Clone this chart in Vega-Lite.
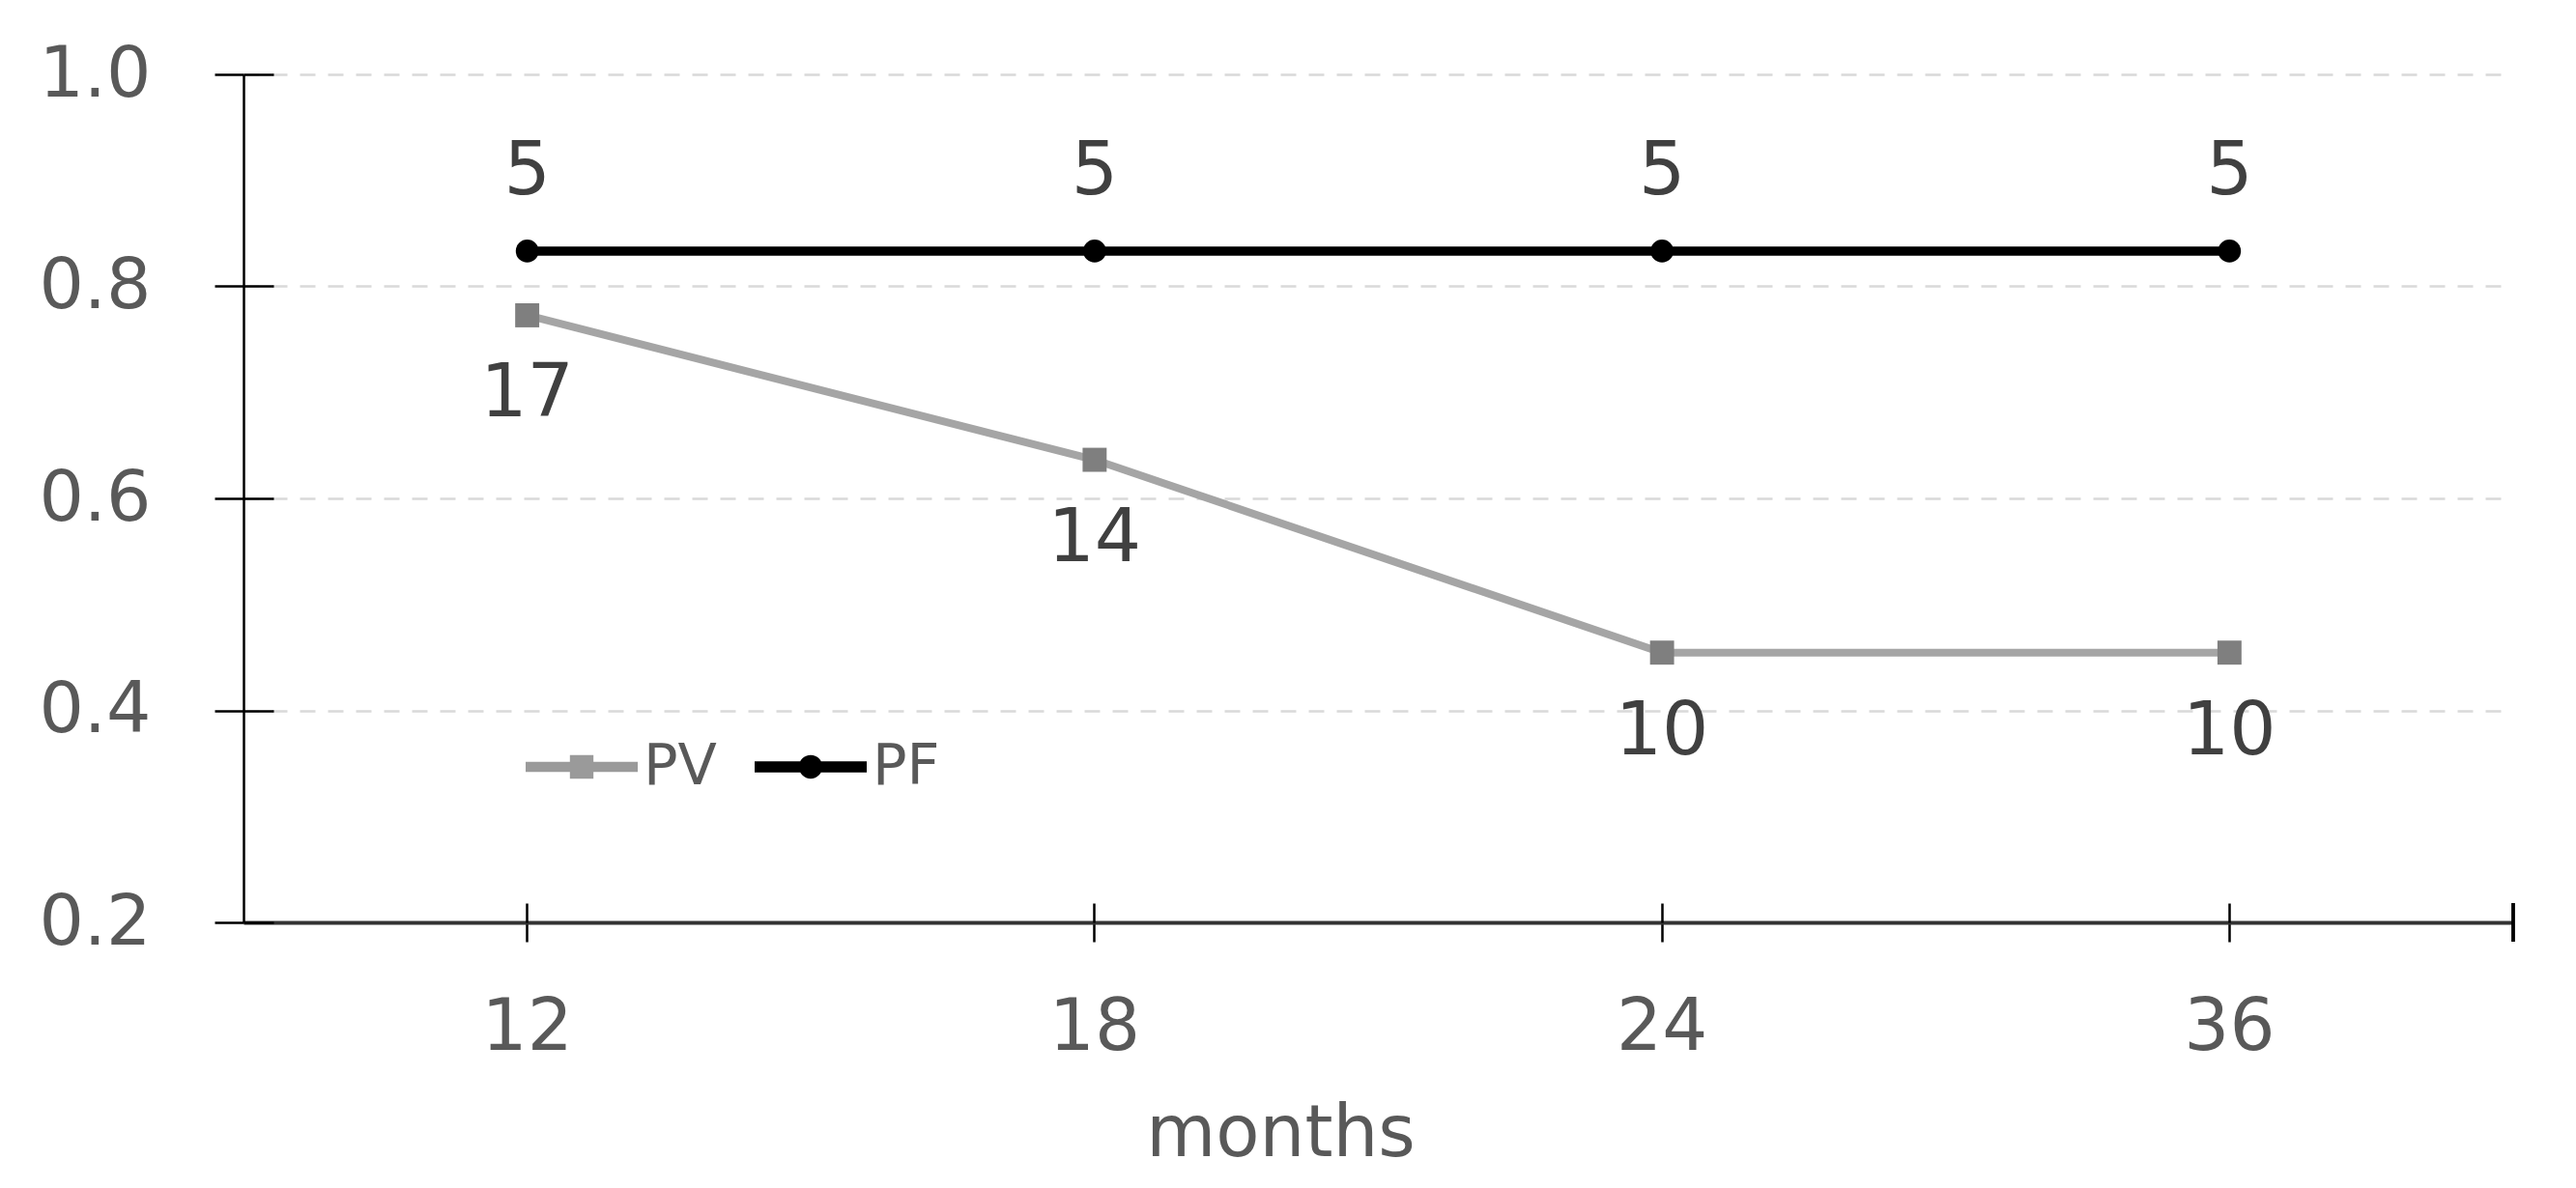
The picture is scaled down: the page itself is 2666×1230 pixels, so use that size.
{
  "$schema": "https://vega.github.io/schema/vega-lite/v6.json",
  "width": 2349,
  "height": 878,
  "autosize": {"type": "none"},
  "padding": {"left": 252, "top": 77, "right": 65, "bottom": 275},
  "background": "white",
  "config": {"view": {"stroke": null}, "font": "DejaVu Sans"},
  "data": {
    "values": [
      {"months": "12", "series": "PV", "value": 0.7727, "label": 17},
      {"months": "18", "series": "PV", "value": 0.6364, "label": 14},
      {"months": "24", "series": "PV", "value": 0.4545, "label": 10},
      {"months": "36", "series": "PV", "value": 0.4545, "label": 10},
      {"months": "12", "series": "PF", "value": 0.8333, "label": 5},
      {"months": "18", "series": "PF", "value": 0.8333, "label": 5},
      {"months": "24", "series": "PF", "value": 0.8333, "label": 5},
      {"months": "36", "series": "PF", "value": 0.8333, "label": 5}
    ]
  },
  "resolve": {"axis": {"x": "independent", "y": "independent"}},
  "layer": [
    {
      "encoding": {
        "x": {
          "field": "months",
          "type": "ordinal",
          "sort": ["12", "18", "24", "36"],
          "scale": {"type": "band", "paddingInner": 0, "paddingOuter": 0},
          "axis": {
            "orient": "bottom",
            "title": "months",
            "titleFont": "DejaVu Sans",
            "titleFontSize": 74,
            "titleFontWeight": "normal",
            "titleColor": "#595959",
            "titleX": 1073,
            "titleY": 241,
            "titleAlign": "center",
            "titleBaseline": "alphabetic",
            "labelAngle": 0,
            "labelFont": "DejaVu Sans",
            "labelFontSize": 74,
            "labelColor": "#595959",
            "labelBaseline": "alphabetic",
            "labelPadding": 111,
            "tickSize": 20,
            "tickWidth": 2.5,
            "tickColor": "#000000",
            "domainColor": "#333333",
            "domainWidth": 4,
            "grid": false
          }
        },
        "y": {
          "field": "value",
          "type": "quantitative",
          "scale": {"domain": [0.2, 1.0], "nice": false, "zero": false},
          "axis": {
            "orient": "left",
            "title": null,
            "values": [0.2, 0.4, 0.6, 0.8, 1.0],
            "format": ".1f",
            "labelFont": "DejaVu Sans",
            "labelFontSize": 73,
            "labelColor": "#595959",
            "labelPadding": 66,
            "tickSize": 30,
            "tickWidth": 2.5,
            "tickColor": "#000000",
            "domainColor": "#000000",
            "domainWidth": 2.5,
            "grid": true,
            "gridColor": "#D9D9D9",
            "gridDash": [16, 13],
            "gridWidth": 2.5
          }
        },
        "color": {
          "field": "series",
          "type": "nominal",
          "scale": {"domain": ["PV", "PF"], "range": ["#A5A5A5", "#000000"]},
          "legend": {
            "orient": "none",
            "legendX": 292,
            "legendY": 659,
            "direction": "horizontal",
            "title": null,
            "labelFont": "DejaVu Sans",
            "labelFontSize": 59,
            "labelColor": "#595959",
            "symbolSize": 13456,
            "labelOffset": 6,
            "columnPadding": 39,
            "symbolStrokeWidth": 0,
            "encode": {
              "symbols": {
                "update": {
                  "shape": {"signal": "datum.value === 'PV' ? 'M-1,-0.09H1V0.09H-1Z M-0.21,-0.21H0.21V0.21H-0.21Z' : 'M-1,-0.1H1V0.1H-1Z M-0.21,0A0.21,0.21 0 1,1 0.21,0A0.21,0.21 0 1,1 -0.21,0Z'"},
                  "fill": {"signal": "datum.value === 'PV' ? '#9A9A9A' : '#000000'"},
                  "fillOpacity": {"value": 1},
                  "strokeWidth": {"value": 0},
                  "opacity": {"value": 1}
                }
              }
            }
          }
        }
      },
      "layer": [
        {
          "transform": [{"filter": "datum.series === 'PV'"}],
          "mark": {"type": "line", "strokeWidth": 8, "strokeCap": "butt"}
        },
        {
          "transform": [{"filter": "datum.series === 'PF'"}],
          "mark": {"type": "line", "strokeWidth": 9.5, "strokeCap": "butt"}
        },
        {
          "transform": [{"filter": "datum.series === 'PV'"}],
          "mark": {"type": "square", "size": 620, "fill": "#7F7F7F", "opacity": 1},
          "encoding": {"color": {"value": "#7F7F7F"}}
        },
        {
          "transform": [{"filter": "datum.series === 'PF'"}],
          "mark": {"type": "circle", "size": 560, "opacity": 1},
          "encoding": {"color": {"value": "#000000"}}
        },
        {
          "transform": [{"filter": "datum.series === 'PV'"}],
          "mark": {"type": "text", "dy": 82, "fontSize": 76, "font": "DejaVu Sans", "baseline": "middle"},
          "encoding": {"text": {"field": "label", "type": "quantitative"}, "color": {"value": "#404040"}}
        },
        {
          "transform": [{"filter": "datum.series === 'PF'"}],
          "mark": {"type": "text", "dy": -82, "fontSize": 76, "font": "DejaVu Sans", "baseline": "middle"},
          "encoding": {"text": {"field": "label", "type": "quantitative"}, "color": {"value": "#404040"}}
        }
      ]
    },
    {
      "mark": {"type": "rule", "strokeWidth": 2.5, "color": "#000000", "clip": false},
      "encoding": {
        "x": {
          "datum": "36",
          "bandPosition": 1,
          "type": "ordinal",
          "axis": {
            "orient": "bottom",
            "title": null,
            "labels": false,
            "domain": false,
            "grid": false,
            "tickSize": -20,
            "tickWidth": 2.5,
            "tickColor": "#000000"
          }
        },
        "y": {
          "datum": 0.2182,
          "type": "quantitative",
          "axis": {
            "orient": "left",
            "title": null,
            "values": [0.2, 0.4, 0.6, 0.8, 1.0],
            "labels": false,
            "domain": false,
            "grid": false,
            "tickSize": -31,
            "tickWidth": 2.5,
            "tickColor": "#000000"
          }
        },
        "y2": {"datum": 0.1818}
      }
    }
  ]
}
